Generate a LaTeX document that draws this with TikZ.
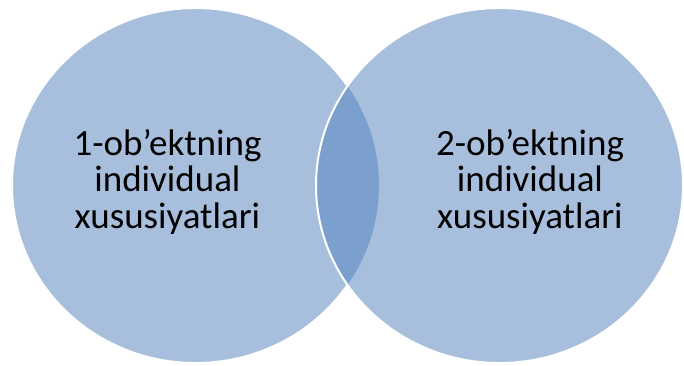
\documentclass[tikz,border=0pt]{standalone}
\usepackage{fontspec}
\setmainfont{Carlito}
\definecolor{vennlight}{HTML}{A7BFDD}
\definecolor{venndark}{HTML}{7BA0CD}
\tikzset{
  vennfill/.style={fill=vennlight},
  vennedge/.style={draw=white, line width=2pt},
  vtxt/.style={anchor=base, inner sep=0pt, font=\fontsize{37}{40}\selectfont, text=black}
}
\begin{document}
\begin{tikzpicture}[x=1pt,y=-1pt]
\useasboundingbox (0,0) rectangle (684,365);
\coordinate (cl) at (195.5,185.5);
\coordinate (cr) at (499.5,185.5);
\path[vennfill, vennedge] (cl) ellipse [x radius=183.5pt, y radius=177.5pt];
\path[vennfill] (cr) ellipse [x radius=183.5pt, y radius=177.5pt];
\begin{scope}
  \clip (cl) ellipse [x radius=183.5pt, y radius=177.5pt];
  \fill[venndark] (cr) ellipse [x radius=183.5pt, y radius=177.5pt];
\end{scope}
\path[vennedge] (cr) ellipse [x radius=183.5pt, y radius=177.5pt];
\node[vtxt] (l1) at (167.5,155) {1-ob’ektning};
\node[vtxt] (l2) at (167.5,191.5) {individual};
\node[vtxt] (l3) at (167.5,228) {xususiyatlari};
\node[vtxt] (r1) at (530,155) {2-ob’ektning};
\node[vtxt] (r2) at (530,191.5) {individual};
\node[vtxt] (r3) at (530,228) {xususiyatlari};
\end{tikzpicture}
\end{document}
